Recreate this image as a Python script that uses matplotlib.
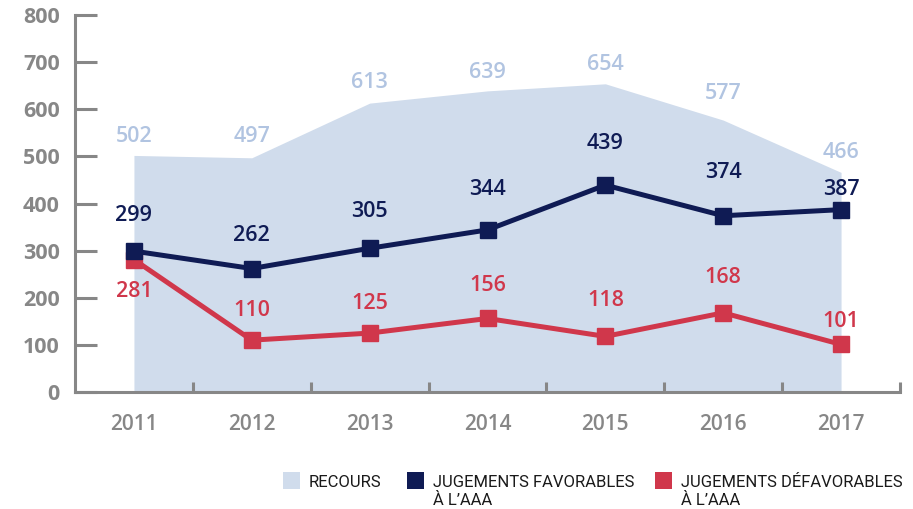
import matplotlib
matplotlib.use("Agg")
import matplotlib.pyplot as plt
from matplotlib.patches import Rectangle

years = ["2011", "2012", "2013", "2014", "2015", "2016", "2017"]
recours = [502, 497, 613, 639, 654, 577, 466]
favorables = [299, 262, 305, 344, 439, 374, 387]
defavorables = [281, 110, 125, 156, 118, 168, 101]

# label offsets (pixels above the point)
off_rec = [19, 21, 21, 18, 19, 27, 20]
off_fav = [36, 33, 37, 40, 42, 43, 20]
off_def = [-32, 30, 30, 33, 36, 35, 23]

C_AREA = "#d0dcec"
C_AREA_TXT = "#b1c4e1"
C_NAVY = "#0f1b54"
C_RED = "#d0374b"
C_GRAY = "#878787"

plt.rcParams['font.family'] = ['Open Sans', 'DejaVu Sans']

fig = plt.figure(figsize=(9.13, 5.09), dpi=100)
ax = fig.add_axes([75/913, 1-392/509, (900-75)/913, (392-15)/509])

x = list(range(len(years)))
ax.fill_between(x, 0, recours, color=C_AREA, lw=0, zorder=1)
ax.plot(x, favorables, color=C_NAVY, lw=3.6, marker='s', ms=12, zorder=4)
ax.plot(x, defavorables, color=C_RED, lw=3.6, marker='s', ms=12, zorder=3)

px2pt = 0.72
for i in x:
    ax.annotate(str(recours[i]), (i, recours[i]), xytext=(0, off_rec[i]*px2pt), textcoords='offset points',
                ha='center', va='center', color=C_AREA_TXT, fontsize=15.5, fontweight='semibold')
    ax.annotate(str(favorables[i]), (i, favorables[i]), xytext=(0, off_fav[i]*px2pt), textcoords='offset points',
                ha='center', va='center', color=C_NAVY, fontsize=15.5, fontweight='semibold')
    ax.annotate(str(defavorables[i]), (i, defavorables[i]), xytext=(0, off_def[i]*px2pt), textcoords='offset points',
                ha='center', va='center', color=C_RED, fontsize=15.5, fontweight='semibold')

ax.set_xlim(-0.5, len(years) - 0.5)
ax.set_ylim(0, 800)
ax.set_yticks(range(0, 801, 100))
ax.tick_params(axis='y', direction='in', length=16, width=2.2, color=C_GRAY,
               labelcolor=C_GRAY, labelsize=15.5, pad=11)
for lab in ax.get_yticklabels():
    lab.set_fontweight('bold')

ax.set_xticks(x)
ax.set_xticklabels(years)
ax.tick_params(axis='x', length=0, labelcolor=C_GRAY, labelsize=15, pad=16)
for lab in ax.get_xticklabels():
    lab.set_fontweight('semibold')
ax.set_xticks([i + 0.5 for i in x], minor=True)
ax.tick_params(axis='x', which='minor', direction='in', length=7, width=2.2, color=C_GRAY)

for s in ['top', 'right']:
    ax.spines[s].set_visible(False)
for s in ['left', 'bottom']:
    ax.spines[s].set_color(C_GRAY)
    ax.spines[s].set_linewidth(2.2)

# legend
W, H = 913, 509
items = [(283, C_AREA, "RECOURS"), (407, C_NAVY, "JUGEMENTS FAVORABLES\nÀ L’AAA"),
         (655, C_RED, "JUGEMENTS DÉFAVORABLES\nÀ L’AAA")]
for px, col, txt in items:
    fig.patches.append(Rectangle((px/W, 1-489/H), 17/W, 17/H, transform=fig.transFigure,
                                 facecolor=col, edgecolor='none'))
    lines = txt.split("\n")
    for k, line in enumerate(lines):
        fig.text((px+26)/W, 1-(487+18*k)/H, line, ha='left', va='baseline', fontsize=12,
                 color='#1a1a1a', fontfamily=['Roboto', 'DejaVu Sans'], fontweight='normal')

fig.savefig("out.png", dpi=100)
